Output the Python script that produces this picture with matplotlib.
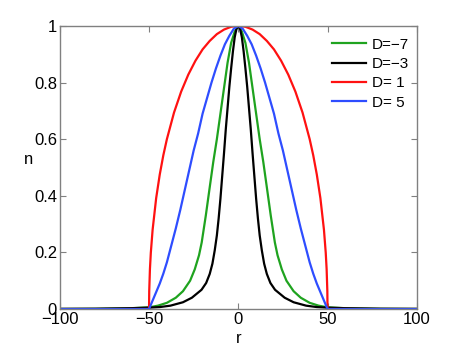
import matplotlib
matplotlib.use("Agg")
import matplotlib.pyplot as plt
import numpy as np

plt.rcParams['font.family'] = ['Liberation Sans', 'DejaVu Sans']
plt.rcParams['axes.unicode_minus'] = True

# --- data (left half, r <= 0; profiles are symmetric) ---
r_black = [-100, -80, -60, -50, -44, -38, -31, -26, -20.6, -18, -16, -14.5, -13.2,
           -12, -11, -10, -9, -8, -7, -6, -5, -4, -3, -2, -1, 0]
n_black = [0.0005, 0.001, 0.003, 0.005, 0.007, 0.012, 0.024, 0.04, 0.068, 0.092, 0.124,
           0.16, 0.207, 0.26, 0.32, 0.39, 0.47, 0.55, 0.635, 0.71, 0.785, 0.85, 0.91,
           0.96, 0.99, 1.0]

r_green = [-100, -80, -60, -50, -45, -40, -35, -31, -27, -24.4, -22, -20.5, -18.2,
           -16, -14, -12, -10, -8, -6, -4, -2, 0]
n_green = [0.0005, 0.001, 0.003, 0.006, 0.012, 0.022, 0.04, 0.063, 0.1, 0.14, 0.19,
           0.235, 0.33, 0.43, 0.52, 0.6, 0.69, 0.78, 0.87, 0.94, 0.98, 1.0]

r_red = [-100, -50, -49.9, -49.5, -49, -48, -46, -44, -42, -40, -36, -32, -28, -24,
         -20, -16, -12, -8, -4, 0]
n_red = [0, 0, 0.063, 0.141, 0.199, 0.28, 0.392, 0.475, 0.543, 0.6, 0.694, 0.768,
         0.828, 0.877, 0.917, 0.947, 0.971, 0.987, 0.997, 1.0]

r_blue = [-100, -50, -48, -46, -44, -42, -40, -37.5, -35, -32.5, -30, -27.5, -25,
          -22.5, -20, -17.5, -15, -12.5, -10, -7.5, -5, -2.5, 0]
n_blue = [0, 0, 0.03, 0.06, 0.09, 0.125, 0.165, 0.225, 0.285, 0.35, 0.42, 0.49, 0.56,
          0.62, 0.69, 0.745, 0.8, 0.85, 0.895, 0.935, 0.965, 0.99, 1.0]

labels = ['D=\u22127', 'D=\u22123', 'D= 1', 'D= 5']
colors = ['#1fa31f', '#000000', '#ff1111', '#2e4dff']


def mirror(r, n):
    r = np.asarray(r, float)
    n = np.asarray(n, float)
    return np.concatenate([r, -r[::-1][1:]]), np.concatenate([n, n[::-1][1:]])


fig = plt.figure(figsize=(4.6, 3.5), dpi=100)
ax = fig.add_axes([0.13, 0.117, 0.776, 0.809])

for (r, n), lab, c in zip([(r_green, n_green), (r_black, n_black),
                           (r_red, n_red), (r_blue, n_blue)], labels, colors):
    x, y = mirror(r, n)
    ax.plot(x, y, color=c, lw=1.6, label=lab, solid_joinstyle='round')

ax.set_xlim(-100, 100)
ax.set_ylim(0, 1)
ax.set_xticks([-100, -50, 0, 50, 100])
ax.set_yticks([0, 0.2, 0.4, 0.6, 0.8, 1])
ax.set_yticklabels(['0', '0.2', '0.4', '0.6', '0.8', '1'])
ax.tick_params(direction='in', length=4, width=0.8, color='#808080',
               top=True, right=True, labelsize=12, pad=2)
for s in ax.spines.values():
    s.set_color('#808080')
    s.set_linewidth(1.0)

ax.set_xlabel('r', fontsize=12, labelpad=3)
ax.set_ylabel('n', fontsize=12, rotation=0, va='center', ha='center')
ax.yaxis.set_label_coords(-0.087, 0.527)

ax.legend(loc='upper right', frameon=False, fontsize=11, handlelength=2.2,
          handletextpad=0.4, labelspacing=0.35, borderaxespad=0.1,
          bbox_to_anchor=(1.0, 0.985))

fig.savefig('out.png', dpi=100)
